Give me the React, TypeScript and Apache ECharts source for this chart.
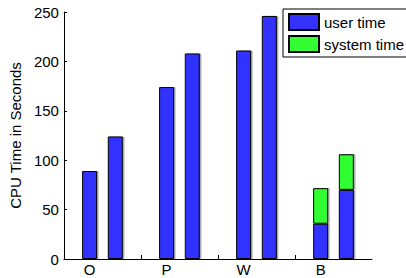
import React, { useEffect, useRef } from "react";
import * as echarts from "echarts";

const groupLabels = ["O", "P", "W", "B"];
const groupLabelPositions = [1, 4, 7, 10];
// bar slots 1..11 on an axis running from 0 to 12
const slotCount = 13;
const userTime = [89, 124, 0, 174, 208, 0, 211, 246, 0, 35.7, 70];
const systemTime = [0.4, 0.4, 0, 0.5, 1, 0, 0.6, 0.6, 0, 36, 36];
const yTicks = [0, 50, 100, 150, 200, 250];

const FONT = "'Liberation Sans', Arial, Helvetica, sans-serif";

export default function App() {
  const ref = useRef<HTMLDivElement>(null);
  useEffect(() => {
    document.body.style.margin = "0";
    if (!ref.current) return;
    const chart = echarts.init(ref.current, null, { renderer: "svg" });
    const categories: string[] = [];
    for (let i = 0; i < slotCount; i++) {
      const idx = groupLabelPositions.indexOf(i);
      categories.push(idx >= 0 ? groupLabels[idx] : " " + i);
    }
    const mk = (vals: number[]) => {
      const out: any[] = [null];
      vals.forEach((v) => {
        const item: any = { value: v };
        if (v === 0) item.itemStyle = { borderColor: "#1f7f1f" };
        out.push(item);
      });
      out.push(null);
      return out;
    };
    const baseStyle = {
      borderColor: "#000",
      borderWidth: 1,
      shadowColor: "rgba(0,0,0,0.35)",
      shadowOffsetX: 1.5,
      shadowOffsetY: 0,
      shadowBlur: 0,
    };
    chart.setOption({
      animation: false,
      grid: { left: 60, right: 34, top: 12, bottom: 19, containLabel: false },
      legend: {
        left: 283,
        top: 9,
        orient: "vertical",
        itemWidth: 30,
        itemHeight: 16,
        itemGap: 4,
        padding: [4, 5],
        backgroundColor: "#fff",
        borderColor: "#000",
        borderWidth: 1,
        borderRadius: 0,
        icon: "rect",
        textStyle: { fontFamily: FONT, fontSize: 15, color: "#000" },
        data: ["user time", "system time"],
      },
      xAxis: {
        type: "category",
        data: categories,
        boundaryGap: false,
        splitLine: { show: false },
        axisLine: { show: true, lineStyle: { color: "#000", width: 1 } },
        axisTick: {
          show: true,
          inside: true,
          length: 4,
          lineStyle: { color: "#000" },
          interval: (i: number) => i >= 1 && i <= slotCount - 2,
        },
        axisLabel: {
          show: true,
          interval: (i: number) => groupLabelPositions.indexOf(i) >= 0,
          fontFamily: FONT,
          fontSize: 15,
          color: "#000",
          margin: 3,
        },
      },
      yAxis: {
        type: "value",
        min: 0,
        max: 250,
        interval: 50,
        name: "CPU Time in Seconds",
        nameLocation: "middle",
        nameGap: 38,
        nameTextStyle: { fontFamily: FONT, fontSize: 15, color: "#000" },
        splitLine: { show: false },
        axisLine: { show: true, lineStyle: { color: "#000", width: 1 } },
        axisTick: {
          show: true,
          inside: true,
          length: 3,
          lineStyle: { color: "#000" },
        },
        axisLabel: {
          fontFamily: FONT,
          fontSize: 15,
          color: "#000",
          margin: 5,
        },
      },
      series: [
        {
          name: "user time",
          type: "bar",
          stack: "t",
          barWidth: 15,
          data: mk(userTime),
          itemStyle: { ...baseStyle, color: "#3333ff" },
        },
        {
          name: "system time",
          type: "bar",
          stack: "t",
          barWidth: 15,
          data: mk(systemTime),
          itemStyle: { ...baseStyle, color: "#33ff33" },
        },
      ],
    });
    return () => chart.dispose();
  }, []);
  return <div ref={ref} style={{ width: 406, height: 278 }} />;
}
